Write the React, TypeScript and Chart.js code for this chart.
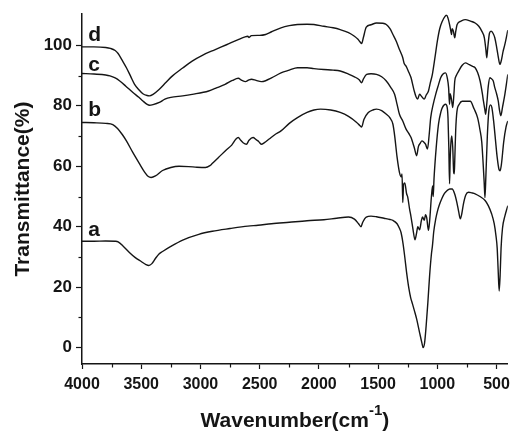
import React, { useEffect, useRef } from 'react';
import { Chart, registerables } from 'chart.js';

Chart.register(...registerables);

// ---- data (wavenumber in cm-1, transmittance in %) ----
const waveA = [4000, 3900, 3800, 3720, 3695, 3650, 3600, 3550, 3500, 3460, 3437, 3410, 3380, 3350, 3320, 3250, 3150, 3014, 2900, 2750, 2600, 2514, 2400, 2250, 2100, 1958, 1850, 1750, 1700, 1665, 1645, 1630, 1600, 1560, 1514, 1450, 1400, 1375, 1340, 1320, 1306, 1290, 1275, 1260, 1240, 1225, 1210, 1195, 1175, 1150, 1130, 1120, 1108, 1095, 1080, 1065, 1050, 1042, 1030, 1014, 1000, 985, 960, 940, 917, 895, 875, 855, 835, 820, 806, 795, 780, 760, 737, 710, 681, 640, 597, 570, 542, 520, 505, 495, 487, 478, 470, 462, 450, 430, 405];
const transA = [35.2, 35.2, 35.3, 35.2, 35.0, 33.5, 31.5, 29.8, 28.5, 27.5, 27.2, 27.8, 29.5, 31.0, 31.8, 33.5, 35.6, 37.5, 38.5, 39.4, 40.2, 40.5, 41.0, 41.5, 42.0, 42.3, 42.8, 43.2, 42.5, 41.0, 40.0, 41.5, 43.2, 43.5, 43.3, 42.8, 42.4, 42.1, 41.0, 39.5, 38.0, 34.5, 30.0, 25.0, 19.5, 16.5, 14.5, 12.4, 9.5, 5.0, 1.5, 0.0, 1.5, 7.0, 15.0, 24.0, 31.0, 33.5, 38.5, 42.5, 45.0, 47.0, 49.5, 51.0, 52.0, 52.5, 52.5, 51.0, 48.0, 45.0, 42.6, 44.0, 47.5, 50.5, 51.4, 51.2, 50.9, 50.0, 48.7, 47.0, 44.3, 41.0, 37.0, 33.0, 26.0, 18.7, 24.0, 33.0, 39.5, 43.5, 47.0];

const waveB = [4000, 3900, 3800, 3740, 3700, 3660, 3625, 3570, 3514, 3470, 3440, 3417, 3380, 3320, 3250, 3181, 3100, 3030, 2958, 2920, 2903, 2850, 2780, 2736, 2700, 2681, 2660, 2640, 2612, 2590, 2556, 2530, 2514, 2500, 2486, 2460, 2420, 2370, 2320, 2250, 2181, 2100, 2042, 1986, 1900, 1820, 1750, 1681, 1655, 1639, 1620, 1583, 1540, 1514, 1470, 1431, 1400, 1375, 1360, 1340, 1320, 1305, 1298, 1292, 1285, 1275, 1260, 1250, 1235, 1222, 1205, 1189, 1175, 1165, 1150, 1135, 1125, 1110, 1100, 1090, 1075, 1065, 1050, 1040, 1035, 1028, 1010, 990, 970, 958, 931, 917, 910, 903, 897, 892, 885, 878, 870, 862, 857, 853, 845, 835, 815, 790, 760, 722, 690, 660, 640, 625, 615, 605, 598, 590, 578, 566, 552, 540, 525, 510, 495, 480, 470, 458, 440, 420, 405];
const transB = [74.5, 74.4, 74.2, 73.8, 72.5, 70.5, 68.4, 64.5, 60.8, 58.0, 56.6, 56.3, 56.8, 58.6, 59.6, 60.0, 59.9, 59.7, 59.6, 60.2, 60.8, 62.8, 65.5, 67.0, 69.0, 69.5, 68.6, 67.8, 67.3, 68.6, 69.5, 68.8, 68.4, 67.8, 67.3, 67.8, 69.0, 70.5, 71.7, 74.2, 76.1, 77.8, 78.6, 78.9, 78.6, 77.8, 76.5, 74.5, 73.5, 73.0, 75.5, 77.8, 78.7, 78.9, 78.4, 77.2, 76.0, 73.9, 70.0, 63.0, 58.0, 56.5, 57.5, 48.0, 54.0, 54.5, 51.0, 49.8, 46.0, 43.2, 39.0, 35.7, 38.0, 40.0, 39.0, 42.0, 43.2, 42.1, 44.0, 43.0, 38.8, 42.0, 50.0, 53.5, 50.0, 56.0, 66.0, 74.0, 78.0, 79.4, 80.5, 79.5, 76.0, 66.0, 54.2, 62.0, 68.0, 70.0, 66.2, 58.0, 57.5, 62.0, 72.0, 78.0, 80.5, 81.5, 81.5, 81.5, 79.0, 76.0, 72.0, 68.0, 62.0, 55.0, 49.6, 57.0, 70.0, 78.0, 80.3, 79.5, 75.0, 69.0, 63.0, 59.0, 58.5, 61.0, 68.0, 73.0, 75.0];

const waveC = [4000, 3900, 3800, 3764, 3720, 3681, 3630, 3570, 3520, 3486, 3450, 3431, 3400, 3347, 3300, 3250, 3150, 3070, 2931, 2860, 2792, 2730, 2681, 2650, 2620, 2590, 2569, 2530, 2486, 2450, 2400, 2320, 2250, 2181, 2100, 2042, 1958, 1880, 1820, 1750, 1700, 1660, 1639, 1625, 1597, 1560, 1514, 1470, 1431, 1395, 1361, 1340, 1320, 1292, 1264, 1240, 1222, 1195, 1175, 1160, 1145, 1130, 1115, 1100, 1083, 1070, 1056, 1035, 1014, 990, 972, 950, 931, 915, 905, 897, 892, 885, 880, 870, 860, 853, 840, 820, 790, 764, 730, 700, 681, 660, 639, 620, 611, 600, 592, 582, 570, 556, 545, 528, 515, 500, 486, 475, 464, 450, 430, 405];
const transC = [90.7, 90.5, 90.2, 89.9, 89.2, 88.2, 86.5, 84.4, 82.8, 81.6, 80.5, 80.2, 80.4, 81.1, 82.2, 82.8, 83.3, 83.8, 84.9, 86.0, 87.1, 88.4, 89.1, 88.4, 88.0, 88.6, 88.8, 88.4, 88.0, 88.3, 89.2, 90.9, 91.8, 92.6, 92.6, 92.3, 92.0, 91.8, 91.5, 90.5, 89.6, 88.6, 87.6, 88.8, 90.4, 90.6, 90.4, 89.6, 88.2, 86.2, 83.8, 80.5, 77.2, 75.0, 72.3, 70.8, 69.5, 66.2, 63.5, 66.5, 67.6, 68.4, 68.0, 67.3, 65.7, 70.0, 76.1, 80.5, 83.8, 87.0, 89.3, 90.6, 90.9, 89.0, 86.0, 80.5, 84.0, 83.0, 82.0, 79.4, 84.0, 88.2, 90.0, 91.5, 93.4, 94.2, 93.6, 93.0, 92.6, 91.0, 88.2, 84.0, 81.6, 79.0, 77.2, 81.0, 86.5, 89.3, 89.0, 88.2, 86.0, 84.0, 81.6, 78.5, 76.7, 79.5, 83.8, 90.4];

const waveD = [4000, 3900, 3800, 3760, 3720, 3695, 3660, 3625, 3590, 3556, 3520, 3486, 3450, 3431, 3400, 3347, 3290, 3236, 3150, 3070, 2980, 2875, 2780, 2681, 2630, 2600, 2590, 2570, 2500, 2450, 2400, 2320, 2250, 2181, 2100, 2042, 1958, 1880, 1820, 1750, 1700, 1670, 1650, 1639, 1625, 1600, 1560, 1514, 1460, 1431, 1400, 1375, 1345, 1320, 1300, 1292, 1280, 1264, 1240, 1222, 1205, 1195, 1180, 1167, 1150, 1135, 1111, 1095, 1075, 1060, 1042, 1020, 1000, 980, 958, 935, 922, 910, 897, 885, 880, 875, 865, 853, 845, 833, 800, 764, 720, 681, 650, 625, 603, 590, 583, 575, 560, 547, 530, 515, 500, 485, 472, 460, 445, 430, 405];
const transD = [99.5, 99.5, 99.3, 99.0, 98.3, 97.3, 95.0, 92.6, 89.8, 87.1, 85.3, 84.0, 83.4, 83.3, 83.8, 85.5, 87.8, 89.9, 92.5, 94.8, 96.8, 98.6, 100.2, 101.9, 102.7, 103.0, 102.6, 103.2, 103.3, 103.6, 104.5, 105.8, 106.5, 106.9, 107.0, 106.9, 106.3, 105.8, 105.2, 104.2, 103.0, 102.0, 101.0, 100.6, 102.5, 106.0, 106.8, 107.4, 107.3, 106.9, 105.5, 103.6, 101.2, 98.6, 96.8, 95.9, 94.0, 93.1, 91.0, 89.3, 86.5, 84.9, 83.0, 82.2, 83.8, 83.2, 82.2, 83.5, 84.9, 87.5, 90.4, 96.0, 101.4, 105.5, 108.0, 109.6, 110.0, 109.0, 106.9, 104.5, 103.6, 105.5, 104.8, 102.5, 104.5, 106.9, 108.0, 108.5, 108.0, 107.4, 106.3, 104.7, 102.5, 98.5, 95.9, 99.0, 104.0, 104.7, 104.0, 102.5, 99.5, 96.0, 93.7, 95.0, 98.0, 100.3, 105.0];

const xTicks = [4000, 3500, 3000, 2500, 2000, 1500, 1000, 500];
const yTicks = [0, 20, 40, 60, 80, 100];
const xMinor = [3750, 3250, 2750, 2250, 1750, 1250, 750];
const yMinor = [10, 30, 50, 70, 90];

const curveNames = ['a', 'b', 'c', 'd'];
const labelWave = [3947, 3947, 3947, 3947];
const labelTrans = [37.1, 76.7, 91.5, 101.6];

const xTitle = 'Wavenumber(cm';
const xTitleSup = '-1';
const xTitleEnd = ')';
const yTitle = 'Transmittance(%)';

const FONT = '"Liberation Sans", Arial, Helvetica, sans-serif';
const INK = '#151515';

const toPts = (w: number[], t: number[]) => w.map((x, i) => ({ x, y: t[i] }));

const decor = {
  id: 'decor',
  afterDraw(chart: any) {
    const ctx = chart.ctx as CanvasRenderingContext2D;
    const xs = chart.scales.x;
    const ys = chart.scales.y;
    const area = chart.chartArea;
    ctx.save();
    ctx.strokeStyle = INK;
    ctx.lineWidth = 1.2;
    xMinor.forEach((v) => {
      const px = Math.round(xs.getPixelForValue(v)) + 0.5;
      ctx.beginPath();
      ctx.moveTo(px, area.bottom);
      ctx.lineTo(px, area.bottom + 3.5);
      ctx.stroke();
    });
    yMinor.forEach((v) => {
      const py = Math.round(ys.getPixelForValue(v)) + 0.5;
      ctx.beginPath();
      ctx.moveTo(area.left, py);
      ctx.lineTo(area.left - 3.5, py);
      ctx.stroke();
    });
    // curve labels
    ctx.fillStyle = INK;
    ctx.font = `bold 21px ${FONT}`;
    ctx.textAlign = 'left';
    ctx.textBaseline = 'alphabetic';
    curveNames.forEach((n, i) => {
      ctx.fillText(n, xs.getPixelForValue(labelWave[i]), ys.getPixelForValue(labelTrans[i]));
    });
    // y title
    ctx.save();
    ctx.translate(28.5, (area.top + area.bottom) / 2);
    ctx.rotate(-Math.PI / 2);
    ctx.textAlign = 'center';
    ctx.font = `bold 21px ${FONT}`;
    ctx.fillText(yTitle, 0, 0);
    ctx.restore();
    // x title with superscript
    ctx.font = `bold 21px ${FONT}`;
    const w1 = ctx.measureText(xTitle).width;
    const w3 = ctx.measureText(xTitleEnd).width;
    ctx.font = `bold 15px ${FONT}`;
    const w2 = ctx.measureText(xTitleSup).width;
    const cx = (area.left + area.right) / 2;
    let sx = cx - (w1 + w2 + w3) / 2;
    const base = 427;
    ctx.textAlign = 'left';
    ctx.font = `bold 21px ${FONT}`;
    ctx.fillText(xTitle, sx, base);
    sx += w1;
    ctx.font = `bold 15px ${FONT}`;
    ctx.fillText(xTitleSup, sx, base - 12);
    sx += w2;
    ctx.font = `bold 21px ${FONT}`;
    ctx.fillText(xTitleEnd, sx, base);
    ctx.restore();
  },
};

export default function App() {
  const ref = useRef<HTMLCanvasElement | null>(null);
  useEffect(() => {
    if (!ref.current) return;
    const mk = (label: string, w: number[], t: number[]) => ({
      label,
      data: toPts(w, t),
      borderColor: INK,
      borderWidth: 1.4,
      pointRadius: 0,
      fill: false,
      cubicInterpolationMode: 'monotone' as const,
    });
    const chart = new Chart(ref.current, {
      type: 'line',
      data: {
        datasets: [
          mk('a', waveA, transA),
          mk('b', waveB, transB),
          mk('c', waveC, transC),
          mk('d', waveD, transD),
        ],
      },
      options: {
        animation: false,
        responsive: false,
        devicePixelRatio: 1,
        layout: { padding: { left: 0, right: 3, top: 13, bottom: 0 } },
        plugins: { legend: { display: false }, tooltip: { enabled: false } },
        scales: {
          x: {
            type: 'linear',
            reverse: true,
            min: 405,
            max: 4000,
            afterBuildTicks: (s: any) => {
              s.ticks = xTicks.map((v) => ({ value: v }));
            },
            afterFit: (s: any) => {
              s.height = 67;
            },
            grid: { drawOnChartArea: false, drawTicks: true, tickLength: 5, color: INK, tickWidth: 1.2 },
            border: { display: true, color: INK, width: 1.5 },
            ticks: {
              autoSkip: false,
              maxRotation: 0,
              padding: 6,
              color: INK,
              font: { family: FONT, size: 16, weight: 'bold' },
              callback: (v: any) => String(v),
            },
          },
          y: {
            type: 'linear',
            min: -5.4,
            max: 110.3,
            afterBuildTicks: (s: any) => {
              s.ticks = yTicks.map((v) => ({ value: v }));
            },
            afterFit: (s: any) => {
              s.width = 82;
            },
            grid: { drawOnChartArea: false, drawTicks: true, tickLength: 6, color: INK, tickWidth: 1.2 },
            border: { display: true, color: INK, width: 1.5 },
            ticks: {
              padding: 4,
              color: INK,
              font: { family: FONT, size: 17, weight: 'bold' },
              callback: (v: any) => String(v),
            },
          },
        },
      },
      plugins: [decor],
    });
    return () => chart.destroy();
  }, []);
  return (
    <div style={{ position: 'fixed', left: 0, top: 0, width: 516, height: 431, background: '#fff' }}>
      <canvas ref={ref} width={516} height={431} style={{ display: 'block' }} />
    </div>
  );
}
